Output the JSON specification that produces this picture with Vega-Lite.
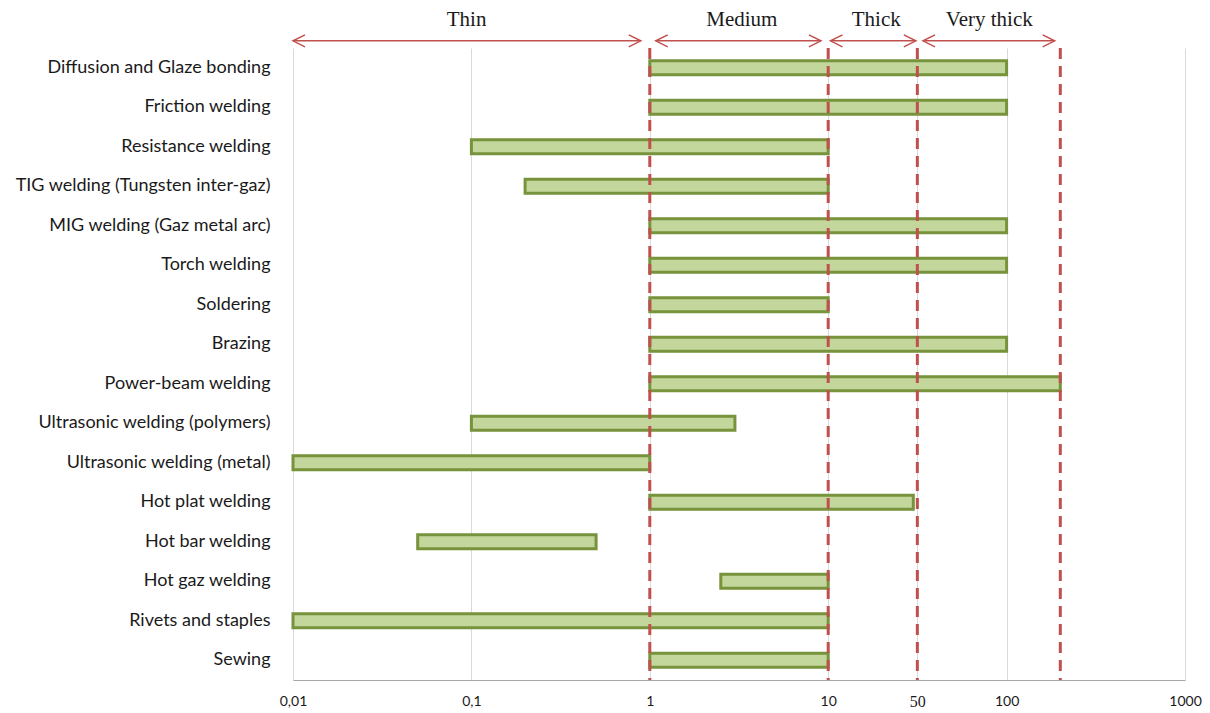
{
  "$schema": "https://vega.github.io/schema/vega-lite/v6.json",
  "padding": 0,
  "spacing": 0,
  "bounds": "flush",
  "config": {"view": {"stroke": null}, "concat": {"spacing": 0}},
  "resolve": {"scale": {"x": "independent", "y": "independent"}},
  "datasets": {
    "processes": [
      {"process": "Diffusion and Glaze bonding", "min": 1, "max": 100},
      {"process": "Friction welding", "min": 1, "max": 100},
      {"process": "Resistance welding", "min": 0.1, "max": 10},
      {"process": "TIG welding (Tungsten inter-gaz)", "min": 0.2, "max": 10},
      {"process": "MIG welding (Gaz metal arc)", "min": 1, "max": 100},
      {"process": "Torch welding", "min": 1, "max": 100},
      {"process": "Soldering", "min": 1, "max": 10},
      {"process": "Brazing", "min": 1, "max": 100},
      {"process": "Power-beam welding", "min": 1, "max": 200},
      {"process": "Ultrasonic welding (polymers)", "min": 0.1, "max": 3},
      {"process": "Ultrasonic welding (metal)", "min": 0.01, "max": 1},
      {"process": "Hot plat welding", "min": 1, "max": 30},
      {"process": "Hot bar welding", "min": 0.05, "max": 0.5},
      {"process": "Hot gaz welding", "min": 2.5, "max": 10},
      {"process": "Rivets and staples", "min": 0.01, "max": 10},
      {"process": "Sewing", "min": 1, "max": 10}
    ],
    "zones": [
      {"zone": "Thin", "start": 0.01, "end": 0.89, "center": 0.094},
      {"zone": "Medium", "start": 1.08, "end": 9.1, "center": 3.28},
      {"zone": "Thick", "start": 10.3, "end": 31, "center": 18.6},
      {"zone": "Very thick", "start": 34, "end": 186, "center": 80}
    ],
    "bounds": [{"t": 1}, {"t": 10}, {"t": 31.6}, {"t": 200}]
  },
  "vconcat": [
    {
      "width": 892,
      "height": 48,
      "data": {"name": "zones"},
      "layer": [
        {
          "mark": {"type": "rule", "color": "#c0504d", "strokeWidth": 1.5},
          "encoding": {
            "x": {"field": "start", "type": "quantitative", "scale": {"type": "log", "domain": [0.01, 1000], "nice": false}, "axis": null},
            "x2": {"field": "end"},
            "y": {"datum": 0.15, "type": "quantitative", "scale": {"domain": [0, 1], "nice": false}, "axis": null}
          }
        },
        {
          "mark": {"type": "point", "shape": "M1,-0.5L0,0L1,0.5", "filled": false, "stroke": "#c0504d", "strokeWidth": 1.5, "size": 576, "opacity": 1},
          "encoding": {
            "x": {"field": "start", "type": "quantitative"},
            "y": {"datum": 0.15, "type": "quantitative"}
          }
        },
        {
          "mark": {"type": "point", "shape": "M-1,-0.5L0,0L-1,0.5", "filled": false, "stroke": "#c0504d", "strokeWidth": 1.5, "size": 576, "opacity": 1},
          "encoding": {
            "x": {"field": "end", "type": "quantitative"},
            "y": {"datum": 0.15, "type": "quantitative"}
          }
        },
        {
          "mark": {"type": "text", "font": "Liberation Serif", "fontSize": 21, "color": "#1a1a1a", "baseline": "middle", "align": "center"},
          "encoding": {
            "x": {"field": "center", "type": "quantitative"},
            "y": {"datum": 0.58, "type": "quantitative"},
            "text": {"field": "zone"}
          }
        }
      ]
    },
    {
      "width": 892,
      "height": 632,
      "layer": [
        {
          "data": {"name": "processes"},
          "mark": {"type": "bar", "fill": "#c3d69b", "stroke": "#77933c", "strokeWidth": 3},
          "encoding": {
            "y": {
              "field": "process", "type": "nominal", "sort": null,
              "scale": {"paddingInner": 0.645, "paddingOuter": 0.32},
              "axis": {"title": null, "ticks": false, "domain": false, "grid": false, "labelFont": "Lato", "labelFontSize": 18, "labelColor": "#1a1a1a", "labelPadding": 23, "minExtent": 293, "maxExtent": 293, "labelLimit": 400}
            },
            "x": {
              "field": "min", "type": "quantitative",
              "scale": {"type": "log", "domain": [0.01, 1000], "nice": false},
              "axis": {
                "title": null,
                "values": [0.01, 0.1, 1, 10, 31.6, 100, 1000],
                "labelExpr": "datum.value < 0.05 ? '0,01' : datum.value < 0.5 ? '0,1' : (datum.value > 30 && datum.value < 40) ? '50' : format(datum.value, 'd')",
                "grid": true, "gridColor": "#d9d9d9", "gridWidth": 1,
                "ticks": false, "domainColor": "#a6a6a6", "domainWidth": 1,
                "labelFontSize": {"condition": {"test": "datum.value > 30 && datum.value < 40", "value": 16}, "value": 14},
                "labelBaseline": "middle",
                "labelPadding": 21, "labelColor": "#1a1a1a",
                "labelFlush": false,
                "labelFont": {"condition": {"test": "datum.value > 30 && datum.value < 40", "value": "Liberation Serif"}, "value": "Lato"},
                "labelOverlap": false
              }
            },
            "x2": {"field": "max"}
          }
        },
        {
          "data": {"name": "bounds"},
          "mark": {"type": "rule", "color": "#c0504d", "strokeWidth": 3, "strokeDash": [11, 7]},
          "encoding": {"x": {"field": "t", "type": "quantitative"}}
        }
      ]
    }
  ]
}
